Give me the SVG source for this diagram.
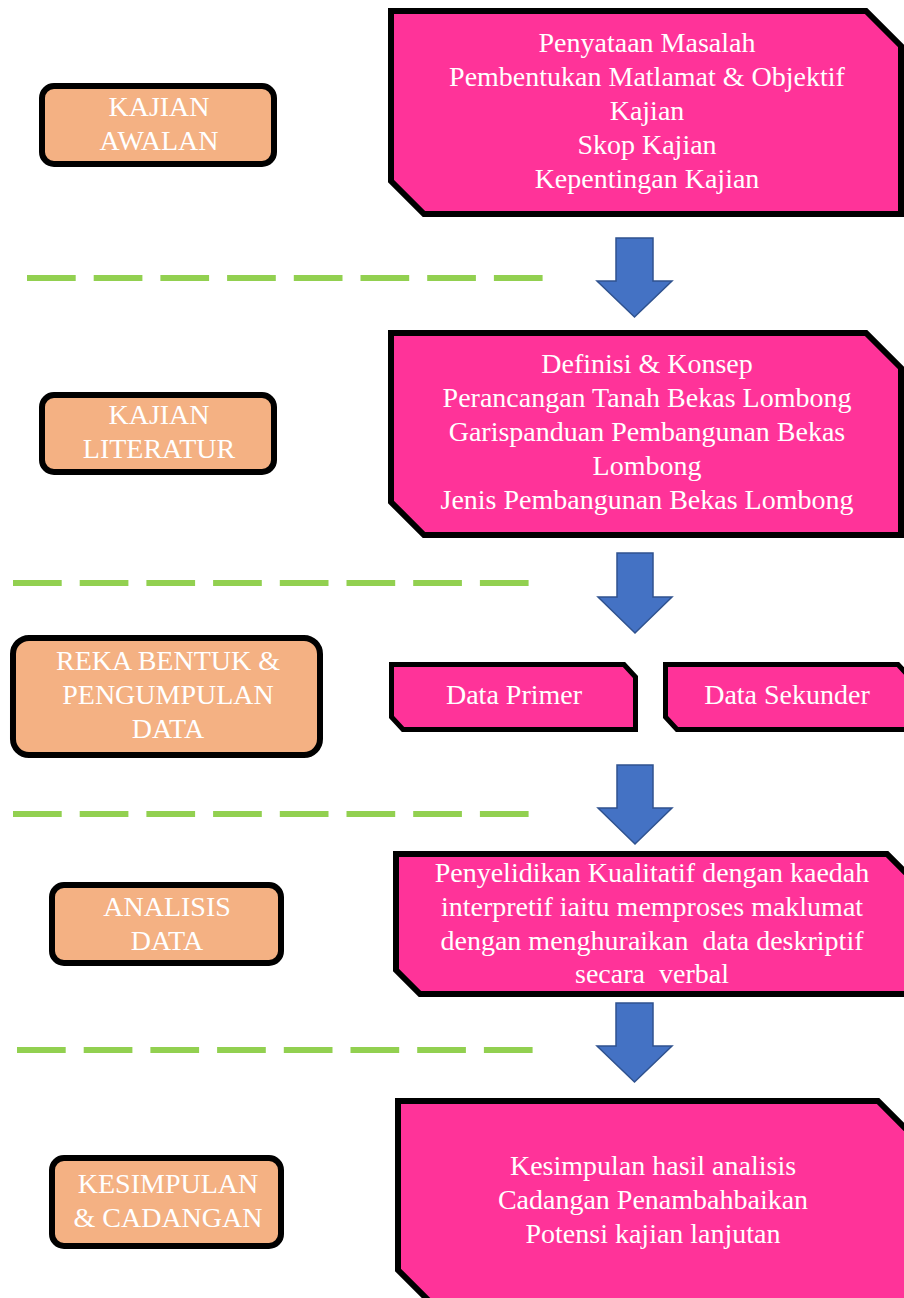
<svg xmlns="http://www.w3.org/2000/svg" width="904" height="1298" viewBox="0 0 904 1298">
<style>
.pink{fill:#FF3399;stroke:#000;stroke-width:6;stroke-linejoin:miter}
.pinks{fill:#FF3399;stroke:#000;stroke-width:5}
.tan{fill:#F4B183;stroke:#000;stroke-width:6}
.t{font-family:"Liberation Serif","Times New Roman",serif;font-size:28px;fill:#fff;text-anchor:middle;white-space:pre}
.arr{fill:#4472C4;stroke:#2F528F;stroke-width:1.5}
.dash{stroke:#92D050;stroke-width:6;stroke-dasharray:48.7 18;fill:none}
</style>
<rect width="904" height="1298" fill="#fff"/>

<g id="separators">
<line class="dash" x1="27" y1="278" x2="544" y2="278"/>
<line class="dash" x1="13" y1="583" x2="530" y2="583"/>
<line class="dash" x1="13" y1="814" x2="530" y2="814"/>
<line class="dash" x1="17" y1="1050" x2="534" y2="1050"/>
</g>

<g id="connectors">
<path class="arr" d="M616,238 H653 V281 H672 L634.5,317 L597,281 H616 Z"/>
<path class="arr" d="M617,553 H653 V597 H672 L635,633 L598,597 H617 Z"/>
<path class="arr" d="M617,765 H653 V808 H672 L635,844 L598,808 H617 Z"/>
<path class="arr" d="M616,1003 H653 V1046 H672 L634.5,1082 L597,1046 H616 Z"/>
</g>

<g id="stage-kajian-awalan">
<rect class="tan" x="42" y="86" width="232" height="78" rx="12"/>
<text class="t" x="159" y="116">KAJIAN</text>
<text class="t" x="159" y="150">AWALAN</text>
</g>

<g id="stage-kajian-literatur">
<rect class="tan" x="42" y="395" width="232" height="77" rx="12"/>
<text class="t" x="159" y="424">KAJIAN</text>
<text class="t" x="159" y="458">LITERATUR</text>
</g>

<g id="stage-reka-bentuk">
<rect class="tan" x="13" y="638" width="307" height="117" rx="16"/>
<text class="t" x="168" y="670">REKA BENTUK &amp;</text>
<text class="t" x="168" y="704">PENGUMPULAN</text>
<text class="t" x="168" y="738">DATA</text>
</g>

<g id="stage-analisis">
<rect class="tan" x="52" y="885" width="229" height="78" rx="12"/>
<text class="t" x="167" y="916">ANALISIS</text>
<text class="t" x="167" y="950">DATA</text>
</g>

<g id="stage-kesimpulan">
<rect class="tan" x="52" y="1158" width="229" height="88" rx="12"/>
<text class="t" x="168" y="1193">KESIMPULAN</text>
<text class="t" x="168" y="1227">&amp; CADANGAN</text>
</g>

<g id="box-kajian-awalan">
<path class="pink" d="M391,11 H866 L901,46 V214 H424 L391,181 Z"/>
<text class="t" x="647" y="52">Penyataan Masalah</text>
<text class="t" x="647" y="86">Pembentukan Matlamat &amp; Objektif</text>
<text class="t" x="647" y="120">Kajian</text>
<text class="t" x="647" y="154">Skop Kajian</text>
<text class="t" x="647" y="188">Kepentingan Kajian</text>
</g>

<g id="box-kajian-literatur">
<path class="pink" d="M391,333 H866 L901,368 V535 H424 L391,502 Z"/>
<text class="t" x="647" y="373">Definisi &amp; Konsep</text>
<text class="t" x="647" y="407">Perancangan Tanah Bekas Lombong</text>
<text class="t" x="647" y="441">Garispanduan Pembangunan Bekas</text>
<text class="t" x="647" y="475">Lombong</text>
<text class="t" x="647" y="509">Jenis Pembangunan Bekas Lombong</text>
</g>

<g id="box-data-primer">
<path class="pinks" d="M391.5,664.5 H624 L635.5,677 V729.5 H403 L391.5,717 Z"/>
<text class="t" x="514" y="704">Data Primer</text>
</g>

<g id="box-data-sekunder">
<path class="pinks" d="M665.5,664.5 H898 L909.5,677 V729.5 H677 L665.5,717 Z"/>
<text class="t" x="787" y="704">Data Sekunder</text>
</g>

<g id="box-analisis">
<path class="pink" d="M396,854 H887 L912,879 V994 H420 L396,970 Z"/>
<text class="t" x="652" y="882">Penyelidikan Kualitatif dengan kaedah</text>
<text class="t" x="652" y="916">interpretif iaitu memproses maklumat</text>
<text class="t" x="652" y="950" xml:space="preserve">dengan menghuraikan  data deskriptif</text>
<text class="t" x="652" y="983" xml:space="preserve">secara  verbal</text>
</g>

<g id="box-kesimpulan">
<path class="pink" d="M398,1101 H878 L913,1136 V1305 H433 L398,1270 Z"/>
<text class="t" x="653" y="1175">Kesimpulan hasil analisis</text>
<text class="t" x="653" y="1209">Cadangan Penambahbaikan</text>
<text class="t" x="653" y="1243">Potensi kajian lanjutan</text>
</g>
</svg>
